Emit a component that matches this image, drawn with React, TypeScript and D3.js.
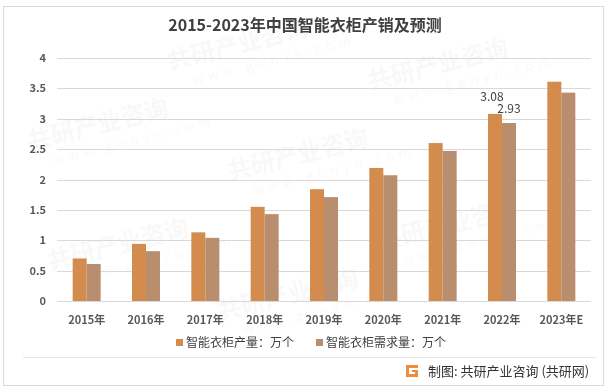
import React, { useEffect, useRef } from 'react';
import * as d3 from 'd3';

// chart data
const years = ['2015年', '2016年', '2017年', '2018年', '2019年', '2020年', '2021年', '2022年', '2023年E'];
const production = [0.7, 0.94, 1.13, 1.55, 1.84, 2.19, 2.6, 3.08, 3.61];
const demand = [0.61, 0.82, 1.04, 1.43, 1.71, 2.07, 2.47, 2.93, 3.43];
const yTicks = [0, 0.5, 1, 1.5, 2, 2.5, 3, 3.5, 4];
const seriesNames = ['智能衣柜产量：万个', '智能衣柜需求量：万个'];
const labelled = ['2022年'];

const colors = ['#D38B4E', '#B98E6E'];
const font = '"Microsoft YaHei", "Noto Sans CJK SC", sans-serif';

const App = () => {
  const ref = useRef<SVGSVGElement>(null);

  useEffect(() => {
    document.body.style.margin = '0';
    const svg = d3.select(ref.current);
    svg.selectAll('*').remove();

    const width = 612;
    const height = 389;
    const margin = { left: 57, right: 21, top: 58, bottom: 88 };

    svg.append('rect').attr('width', width).attr('height', height).attr('fill', '#fff');

    // faint watermark, kept inside the frame
    const wm = svg.append('g').attr('fill', '#000').attr('opacity', 0.03).style('font-family', font);
    const spots = [[170, 70], [370, 90], [30, 150], [230, 180], [380, 250], [50, 270], [220, 320]];
    spots.forEach(([x, y]) => {
      const g = wm.append('g').attr('transform', `translate(${x},${y}) rotate(-14)`);
      g.append('text').attr('font-size', 24).attr('font-weight', 'bold').text('共研产业咨询');
      g.append('text').attr('y', 20).attr('x', 20).attr('font-size', 13).attr('letter-spacing', 5).text('www.gonyn.com');
    });

    // outer border
    svg.append('rect')
      .attr('x', 3.5).attr('y', 6.5).attr('width', 600).attr('height', 379)
      .attr('fill', 'none').attr('stroke', '#d9d9d9');

    // title
    svg.append('text')
      .attr('x', 305).attr('y', 31)
      .attr('text-anchor', 'middle')
      .style('font-family', font).style('font-size', '16px').style('font-weight', 'bold')
      .attr('fill', '#404040')
      .text('2015-2023年中国智能衣柜产销及预测');

    const x = d3.scaleBand().domain(years).range([margin.left, width - margin.right]);
    const y = d3.scaleLinear().domain([0, 4]).range([height - margin.bottom, margin.top]);

    // grid lines
    svg.append('g').selectAll('line').data(yTicks).join('line')
      .attr('x1', margin.left).attr('x2', width - margin.right)
      .attr('y1', (d) => Math.round(y(d)) + 0.5).attr('y2', (d) => Math.round(y(d)) + 0.5)
      .attr('stroke', '#d9d9d9');

    // y labels
    svg.append('g').selectAll('text').data(yTicks).join('text')
      .attr('x', 46).attr('y', (d) => y(d) + 4)
      .attr('text-anchor', 'end')
      .style('font-family', font).style('font-size', '11px').style('font-weight', 'bold')
      .attr('fill', '#595959')
      .text((d) => String(d));

    // x labels
    svg.append('g').selectAll('text').data(years).join('text')
      .attr('x', (d) => (x(d) as number) + x.bandwidth() / 2).attr('y', 324)
      .attr('text-anchor', 'middle')
      .style('font-family', font).style('font-size', '11px').style('font-weight', 'bold')
      .attr('fill', '#595959')
      .text((d) => d);

    const barW = 14;
    [production, demand].forEach((vals, si) => {
      const gx = (d: string) => (x(d) as number) + x.bandwidth() / 2 - barW + si * barW;
      svg.append('g').selectAll('rect').data(vals).join('rect')
        .attr('x', (_, i) => gx(years[i]))
        .attr('y', (d) => y(d))
        .attr('width', barW)
        .attr('height', (d) => y(0) - y(d))
        .attr('fill', colors[si]);

      svg.append('g').selectAll('text').data(vals.map((v, i) => ({ v, i })).filter((d) => labelled.includes(years[d.i]))).join('text')
        .attr('x', (d) => gx(years[d.i]) + barW / 2 - (si === 0 ? 3 : 0))
        .attr('y', (d) => y(d.v) - (si === 0 ? 13 : 10))
        .attr('text-anchor', 'middle')
        .style('font-family', font).style('font-size', '12px')
        .attr('fill', '#404040')
        .text((d) => d.v.toFixed(2));
    });

    // legend
    const legend = svg.append('g').style('font-family', font).style('font-size', '12px');
    [176, 316].forEach((lx, i) => {
      legend.append('rect').attr('x', lx).attr('y', 339).attr('width', 7).attr('height', 7).attr('fill', colors[i]);
      legend.append('text').attr('x', lx + 10).attr('y', 347).attr('fill', '#404040').text(seriesNames[i]);
    });

    // separator
    svg.append('line').attr('x1', 23).attr('x2', 596).attr('y1', 357.5).attr('y2', 357.5).attr('stroke', '#e6e6e6');

    // source logo + text
    const logo = svg.append('g').attr('transform', 'translate(406,365)');
    logo.append('path')
      .attr('d', 'M0,0 H12 V3 H3 V9 H9 V7 H6 V5 H12 V12 H0 Z')
      .attr('fill', '#F08C3A');
    svg.append('text')
      .attr('x', 428).attr('y', 376)
      .style('font-family', font).style('font-size', '13px')
      .attr('fill', '#333')
      .text('制图: 共研产业咨询 (共研网)');
  }, []);

  return <svg ref={ref} width={612} height={389} style={{ display: 'block' }} />;
};

export default App;
